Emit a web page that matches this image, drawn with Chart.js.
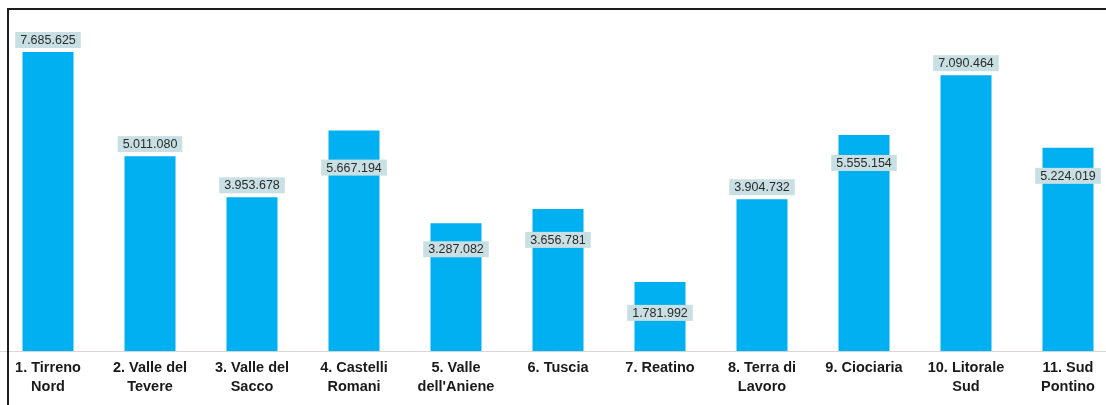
<!DOCTYPE html>
<html lang="it">
<head>
<meta charset="utf-8">
<script src="https://cdn.jsdelivr.net/npm/chart.js@4"></script>
<style>
  html, body { margin: 0; padding: 0; background: #fff; overflow: hidden; }
  body { width: 1106px; height: 405px; position: relative; }
  #c { position: absolute; left: -13px; top: 0; }
  .frame {
    position: absolute; left: 7px; top: 8px; width: 1200px; height: 500px;
    border-left: 2px solid #1c1c1c; border-top: 2px solid #1c1c1c;
    pointer-events: none;
  }
</style>
</head>
<body>
<canvas id="c" width="1142" height="405"></canvas>
<div class="frame"></div>
<script>
// Aree e valori
const areas = [
  ['1. Tirreno', 'Nord'],
  ['2. Valle del', 'Tevere'],
  ['3. Valle del', 'Sacco'],
  ['4. Castelli', 'Romani'],
  ['5. Valle', "dell'Aniene"],
  '6. Tuscia',
  '7. Reatino',
  ['8. Terra di', 'Lavoro'],
  '9. Ciociaria',
  ['10. Litorale', 'Sud'],
  ['11. Sud', 'Pontino'],
];
const values = [7685625, 5011080, 3953678, 5667194, 3287082, 3656781, 1781992, 3904732, 5555154, 7090464, 5224019];

// formato con il punto come separatore delle migliaia
function formatIt(n) {
  return String(n).replace(/\B(?=(\d{3})+(?!\d))/g, '.');
}

// etichette dei valori con riquadro colorato
const valueLabels = {
  id: 'valueLabels',
  afterDatasetsDraw(chart, args, opts) {
    const ctx = chart.ctx;
    const meta = chart.getDatasetMeta(0);
    ctx.save();
    ctx.font = opts.font;
    ctx.textAlign = 'center';
    ctx.textBaseline = 'middle';
    meta.data.forEach((bar, i) => {
      const text = formatIt(chart.data.datasets[0].data[i]);
      const w = ctx.measureText(text).width + 10;
      const h = 16;
      const cy = bar.y + opts.offsets[i];
      ctx.fillStyle = opts.background;
      ctx.fillRect(bar.x - w / 2, cy - h / 2, w, h);
      ctx.fillStyle = opts.color;
      ctx.fillText(text, bar.x, cy + 0.5);
    });
    ctx.restore();
  }
};

new Chart(document.getElementById('c'), {
  type: 'bar',
  data: {
    labels: areas,
    datasets: [{
      data: values,
      backgroundColor: '#00b0f0',
      barPercentage: 0.5,
      categoryPercentage: 1,
    }],
  },
  options: {
    responsive: false,
    devicePixelRatio: 1,
    animation: false,
    layout: { padding: { left: 10, right: 10, top: 30, bottom: 2 } },
    plugins: {
      legend: { display: false },
      tooltip: { enabled: false },
      valueLabels: {
        font: '12.5px "Liberation Sans", Arial, sans-serif',
        color: '#2a2a2a',
        background: '#c8e0e4',
        offsets: [-12, -12, -12, 37, 26, 31, 31, -12, 28, -12, 28],
      },
    },
    scales: {
      x: {
        grid: { display: false, drawTicks: false },
        border: { display: true, color: '#dcd6d6', width: 1 },
        ticks: {
          color: '#1a1a1a',
          padding: 7,
          maxRotation: 0,
          autoSkip: false,
          font: { family: '"Liberation Sans", Arial, sans-serif', size: 14.5, weight: 'bold', lineHeight: 1.3 },
        },
      },
      y: {
        display: false,
        min: 0,
        max: 8250000,
      },
    },
  },
  plugins: [valueLabels],
});
</script>
</body>
</html>
